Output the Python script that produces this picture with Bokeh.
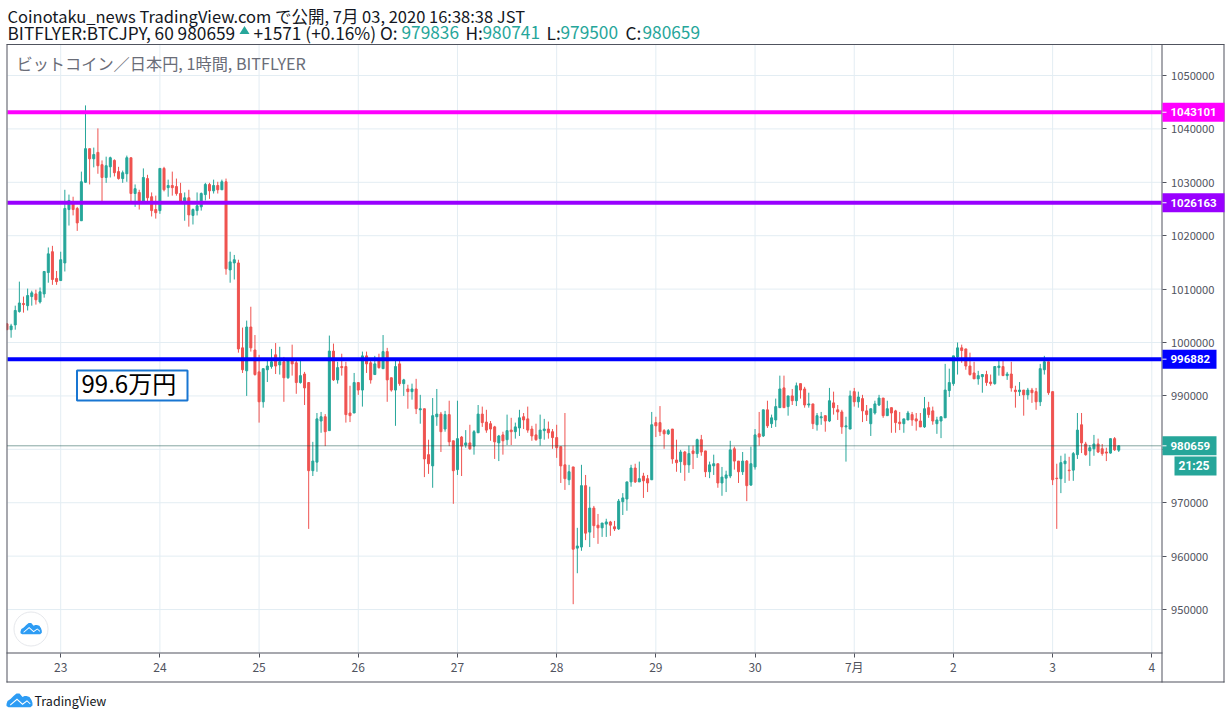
from bokeh.plotting import figure
from bokeh.models import (ColumnDataSource, FixedTicker, Label, BoxAnnotation, PolyAnnotation,
                          NumeralTickFormatter, LinearAxis)
from bokeh.embed import file_html
from bokeh.resources import INLINE

# Hourly BTC/JPY candles, in thousands of yen. Bar 13 is 23 June 00:00.
opens = [1003.5,1002.4,1003.3,1005.8,1007.3,1006.9,1008.6,1009.1,1007.6,1009.1,1013.1,1017.0,1012.0,
1011.6,1014.9,1024.9,1026.4,1025.1,1022.8,1030.0,1036.3,1034.4,1035.6,
1033.3,1030.9,1032.9,1034.1,1032.0,1030.7,1031.6,1034.6,1027.9,1028.1,
1026.4,1030.7,1027.3,1024.9,1024.7,1032.6,1029.0,1029.4,1029.2,1027.9,
1026.4,1027.1,1023.8,1024.7,1025.4,1027.7,1029.6,1028.4,1029.4,1028.6,
1030.1,1013.6,1014.9,1014.9,999.0,994.7,1002.9,998.6,994.5,988.9,
994.9,995.5,997.7,995.8,996.4,993.4,996.6,996.2,992.5,994.1,
992.5,976.0,977.6,985.3,986.1,983.5,998.4,993.0,995.5,995.5,
986.8,986.8,992.5,991.1,997.5,996.2,994.0,996.6,995.1,998.3,
993.4,991.1,996.0,992.3,991.3,990.8,991.3,987.4,987.6,979.0,
976.9,986.1,986.6,983.8,986.5,981.6,976.2,982.3,980.8,981.2,
980.6,983.1,986.6,985.1,984.8,984.2,981.2,982.7,981.8,983.6,
983.3,984.0,986.1,985.7,983.8,982.7,982.0,983.5,983.8,983.3,
982.2,980.5,977.1,974.3,976.7,961.5,961.7,973.2,964.5,969.0,
965.8,965.3,966.0,966.4,965.5,965.1,970.2,970.7,973.9,976.5,
973.9,975.0,974.5,974.3,985.0,985.0,983.5,982.9,983.8,978.0,
977.7,979.5,977.1,979.7,979.2,981.8,979.7,975.8,976.9,977.3,
973.7,974.6,975.0,980.1,977.8,975.8,977.8,973.3,976.7,982.9,
982.5,987.4,984.8,985.5,987.8,991.5,988.0,990.0,989.1,992.3,
991.3,988.3,988.5,984.6,985.9,986.3,985.3,988.7,987.4,987.0,
984.2,983.8,990.8,988.9,989.5,987.2,984.8,986.8,988.3,989.6,
986.3,987.8,987.2,985.1,984.8,985.5,986.5,985.7,985.3,984.2,
987.8,987.2,984.8,985.3,985.9,991.0,992.3,997.3,999.0,998.8,
995.6,994.3,993.2,993.6,994.0,992.6,992.3,995.3,995.5,993.8,
994.1,991.1,990.8,991.1,990.2,991.1,990.8,988.9,994.9,996.4,
990.8,974.6,974.5,977.3,976.1,976.1,979.0,984.6,981.0,979.7,
980.1,981.0,980.1,979.5,979.3,982.0,979.836]
closes = [1002.4,1003.1,1006.0,1007.4,1007.1,1008.8,1009.3,1008.0,1009.5,1013.3,1016.6,1011.8,1011.4,
1015.5,1025.1,1026.6,1024.9,1022.4,1030.1,1036.3,1034.4,1035.2,1033.1,
1030.9,1033.1,1034.6,1031.8,1030.7,1031.8,1034.6,1027.9,1028.8,1026.2,
1030.9,1027.1,1024.7,1024.3,1032.6,1028.6,1029.4,1029.0,1027.9,1026.4,
1027.1,1023.9,1024.9,1025.6,1027.9,1029.6,1028.4,1029.4,1028.6,1030.1,
1013.8,1015.1,1015.5,998.8,994.9,1002.9,999.0,994.0,988.9,995.1,
995.6,996.4,995.6,996.4,993.4,996.6,996.0,992.5,993.8,991.5,
976.0,977.8,985.7,986.1,983.3,998.4,993.0,995.3,995.3,986.5,
986.3,992.5,991.1,997.5,996.0,993.0,996.0,995.3,998.3,993.0,
991.1,995.5,992.3,993.0,990.8,991.3,987.6,987.6,978.2,977.3,
986.3,986.6,983.3,986.5,981.4,976.0,982.0,980.6,981.2,980.1,
983.3,986.6,985.0,983.6,983.8,981.4,982.5,981.6,983.5,983.3,
984.2,985.9,985.5,983.6,982.5,981.8,983.6,983.8,983.1,982.2,
980.3,976.9,974.5,975.8,961.3,961.9,973.2,964.3,969.0,965.7,
965.3,966.2,966.4,965.8,965.1,970.3,970.9,973.9,976.5,973.9,
974.5,974.1,973.7,984.6,984.4,983.3,982.9,983.5,978.2,977.5,
979.5,977.1,979.2,979.2,981.8,979.5,975.8,977.1,977.3,973.7,
974.8,975.2,979.9,977.8,975.8,977.8,973.2,977.3,982.7,982.3,
987.4,984.4,985.9,988.0,991.3,987.8,990.0,989.1,991.9,991.1,
988.3,988.5,984.8,986.3,986.1,985.3,989.1,987.8,987.0,984.2,
984.4,990.0,988.9,989.8,987.2,986.5,987.6,988.5,989.6,986.3,
987.6,986.8,985.0,984.8,985.7,986.8,985.5,985.3,984.2,987.6,
986.5,985.3,985.5,986.1,991.1,992.5,997.5,999.0,998.5,995.6,
994.0,993.2,993.8,994.0,992.5,992.3,995.5,995.6,993.8,994.1,
991.5,990.8,991.1,990.2,991.1,990.6,988.9,995.1,996.4,990.6,
974.3,974.5,977.5,977.8,976.0,979.2,983.6,981.2,979.0,980.3,
981.0,979.5,979.2,979.3,982.0,979.9,980.659]
highs = [1003.5,1003.5,1006.9,1011.4,1008.6,1010.1,1009.7,1009.9,1010.3,1013.4,1017.8,1018.1,1013.4,
1017.0,1028.6,1027.7,1027.3,1025.4,1032.0,1044.4,1036.3,1036.5,1040.1,
1034.1,1034.8,1034.8,1034.3,1032.9,1032.2,1035.0,1034.6,1029.6,1028.6,
1032.6,1031.4,1028.1,1027.5,1032.6,1032.9,1030.5,1032.0,1030.7,1029.9,
1028.1,1028.6,1025.1,1028.1,1028.1,1029.9,1029.9,1030.5,1030.1,1030.5,
1030.7,1017.0,1016.4,1015.5,1002.8,1004.1,1006.7,1001.4,997.7,995.1,
996.6,998.8,999.9,999.2,997.3,996.9,999.6,996.6,996.6,994.5,
992.6,981.4,986.8,987.0,986.6,1001.3,999.8,996.4,997.9,996.4,
991.9,994.3,992.5,998.3,998.3,996.6,997.5,997.9,1001.4,999.0,
993.4,996.6,996.6,993.2,992.1,992.3,993.2,990.2,987.6,981.8,
989.6,991.3,987.0,987.2,989.1,981.6,989.1,982.5,983.6,984.6,
983.6,988.3,988.0,987.4,985.3,984.4,982.7,983.3,986.5,985.9,
985.0,987.4,986.8,988.0,984.4,984.8,986.5,985.7,985.2,983.8,
984.6,980.5,986.8,977.1,976.7,965.3,977.1,975.2,973.0,969.4,
967.9,966.2,967.0,966.6,966.6,970.7,971.8,973.9,977.1,977.3,
977.7,975.6,975.2,987.0,986.1,988.1,983.8,983.8,983.8,981.8,
979.9,979.7,980.7,980.7,982.0,982.7,979.7,977.7,979.0,977.3,
976.7,976.0,981.6,980.5,977.8,979.5,978.0,980.5,983.8,987.0,
987.4,989.1,986.5,989.5,993.8,993.8,990.0,991.3,992.5,992.3,
991.7,990.6,988.5,986.8,987.0,986.3,991.5,990.8,988.3,987.4,
986.1,991.0,991.5,990.8,990.2,988.3,987.6,989.1,990.2,989.6,
989.1,987.8,987.4,987.0,985.7,987.2,987.0,986.8,986.8,989.8,
988.9,988.0,986.1,986.1,996.0,995.1,997.5,1000.0,999.6,998.8,
998.1,996.4,994.7,994.1,994.7,994.0,995.6,997.0,996.6,994.5,
996.4,991.9,992.6,991.1,991.5,991.5,991.5,996.0,997.5,996.4,
990.8,977.3,978.8,979.2,978.6,979.5,986.8,986.8,981.4,980.8,
982.7,982.0,981.0,980.3,982.0,982.3,980.741]
lows = [1002.4,1000.9,1002.4,1005.6,1005.6,1006.0,1006.9,1007.1,1007.3,1008.4,1011.2,1010.8,1010.8,
1011.6,1013.3,1021.9,1023.8,1020.9,1022.8,1029.9,1029.6,1032.8,1031.6,
1026.4,1029.9,1030.9,1031.1,1030.5,1029.9,1030.1,1026.4,1025.4,1024.9,
1026.4,1026.4,1023.6,1023.2,1024.1,1028.3,1027.3,1027.5,1027.5,1026.2,
1022.8,1021.7,1022.1,1023.8,1024.7,1026.6,1026.9,1027.9,1027.9,1028.6,
1012.7,1011.2,1011.8,998.1,994.3,990.0,998.3,993.8,985.0,987.8,
992.6,995.1,994.1,994.0,988.9,993.2,993.8,990.4,992.3,988.3,
965.1,975.0,975.8,983.1,980.6,983.5,992.8,992.3,993.8,985.0,
985.1,986.8,990.2,988.0,994.3,992.3,994.0,995.1,995.1,988.9,
990.8,984.4,991.9,990.0,987.6,989.3,986.6,984.8,974.8,975.4,
972.8,984.4,979.5,983.3,980.6,969.8,975.2,975.0,980.3,979.9,
979.0,983.1,984.2,983.1,981.6,978.2,977.8,979.0,980.8,980.8,
982.0,982.5,983.8,983.1,981.6,981.6,980.7,981.8,982.0,980.1,
978.4,973.7,972.4,973.3,951.0,956.8,961.0,963.0,961.7,963.4,
962.3,963.6,963.6,963.8,964.7,964.9,967.7,968.5,973.0,973.7,
973.9,970.9,972.0,974.3,982.3,982.5,980.1,982.7,977.3,975.8,
975.6,974.1,975.6,976.3,978.4,978.8,974.8,974.6,975.2,972.8,
971.3,972.0,974.6,976.2,973.7,975.2,970.3,973.2,976.2,980.7,
982.3,984.0,984.0,984.2,987.8,987.8,986.3,988.3,988.1,989.5,
987.8,987.8,983.8,983.5,984.6,983.3,985.1,986.5,985.5,982.9,
977.7,983.8,988.0,987.8,985.1,985.3,982.5,986.5,988.1,985.9,
986.3,983.1,983.1,983.6,983.1,985.5,984.4,983.5,984.2,984.0,
985.9,984.6,982.9,982.1,985.9,989.8,991.9,994.0,996.2,994.9,
993.8,993.2,992.1,990.6,991.9,991.9,992.1,993.8,993.8,993.0,
990.8,987.8,990.0,986.3,989.3,988.7,987.4,988.1,994.0,990.2,
973.3,965.1,971.8,973.7,974.1,974.1,978.2,979.3,978.8,976.9,
978.8,979.3,978.8,977.8,979.2,979.7,979.5]

assert len(opens) == len(closes) == len(highs) == len(lows), (len(opens), len(closes), len(highs), len(lows))

price_ticks = [950000, 960000, 970000, 980000, 990000, 1000000, 1010000, 1020000, 1030000, 1040000, 1050000]
day_labels = ["23", "24", "25", "26", "27", "28", "29", "30", "7月", "2", "3", "4"]
hours_per_day = 24
level_prices = [1043101, 1026163, 996882]
level_colors = ["#ff00ff", "#9900ff", "#0000ff"]
level_tag_right = [1224, 1224, 1216]
last_price = 980659
countdown = "21:25"

UP, DOWN = "#26a69a", "#ef5350"
AXIS = "#50535e"
GRID = "#e3edf3"
SANS = "Noto Sans CJK JP"

W, H = 1228, 716
PANE_L, PANE_R, PANE_T, PANE_B = 7, 1161, 44, 652
Y_PER_PX = 187.25
X_PER_PX = 1 / 4.133


def x_at(px):
    return (px - 60.2) * X_PER_PX


def y_at(py):
    return 1040000 - (py - 128.4) * Y_PER_PX


hours = list(range(-13, -13 + len(opens)))
src = ColumnDataSource(dict(
    x=hours,
    o=[v * 1000 for v in opens],
    c=[v * 1000 for v in closes],
    h=[v * 1000 for v in highs],
    l=[v * 1000 for v in lows],
    col=[UP if c >= o else DOWN for o, c in zip(opens, closes)],
))

p = figure(width=W, height=H, output_backend="svg", toolbar_location=None,
           x_range=(x_at(0), x_at(W)), y_range=(y_at(H), y_at(0)),
           x_axis_type=None, y_axis_type=None,
           min_border_left=0, min_border_right=0, min_border_top=0, min_border_bottom=0,
           background_fill_color="white", border_fill_color="white", outline_line_color=None)
p.grid.visible = False

day_ticks = [i * hours_per_day for i in range(len(day_labels))]
xaxis = LinearAxis(fixed_location=y_at(PANE_B + 0.5), ticker=FixedTicker(ticks=day_ticks),
                   major_label_overrides={t: s for t, s in zip(day_ticks, day_labels)})
yaxis = LinearAxis(fixed_location=x_at(PANE_R + 0.5), ticker=FixedTicker(ticks=price_ticks),
                   formatter=NumeralTickFormatter(format="0"))
for ax in (xaxis, yaxis):
    ax.axis_line_color = None
    ax.major_tick_line_color = AXIS
    ax.major_tick_in = 0
    ax.major_tick_out = 4
    ax.minor_tick_line_color = None
    ax.major_label_text_color = AXIS
    ax.major_label_text_font = SANS
xaxis.major_label_text_font_size = "12px"
yaxis.major_label_text_font_size = "11.2px"
xaxis.major_label_standoff = 1
yaxis.major_label_standoff = 5
p.add_layout(xaxis, "below")
p.add_layout(yaxis, "right")

# Grid, limited to the pane
p.segment(day_ticks, y_at(PANE_B), day_ticks, y_at(PANE_T), line_color=GRID, line_width=1)
p.segment(x_at(PANE_L), price_ticks, x_at(PANE_R), price_ticks, line_color=GRID, line_width=1)

p.segment("x", "l", "x", "h", source=src, line_color="col", line_width=1)
p.vbar(x="x", bottom="o", top="c", width=0.484, source=src, fill_color="col", line_color="col", line_width=1)

p.segment(x_at(PANE_L), [last_price], x_at(PANE_R), [last_price], line_color="#0b4a42", line_width=1, line_dash="1 1")
p.segment(x_at(PANE_L), level_prices, x_at(PANE_R), level_prices, line_color=level_colors, line_width=4)


def canvas_box(left, right, top, bottom, **kw):
    p.add_layout(BoxAnnotation(left=left, right=right, top=top, bottom=bottom,
                               left_units="canvas", right_units="canvas",
                               top_units="canvas", bottom_units="canvas", **kw))


def canvas_text(x, y, text, size, color, **kw):
    p.add_layout(Label(x=x, y=y, x_units="canvas", y_units="canvas", text=text,
                       text_font=kw.pop("font", SANS), text_font_size=size, text_color=color,
                       text_baseline="middle", **kw))


# Chart frame
FRAME = dict(fill_color=AXIS, fill_alpha=1, line_color=None)
canvas_box(0, 6, 40, 690, fill_color="white", fill_alpha=1, line_color=None)
canvas_box(6, 1224, 43.5, 44.5, **FRAME)
canvas_box(6, 1224, 681, 682, **FRAME)
canvas_box(6, 7, 44, 682, **FRAME)
canvas_box(1223, 1224, 44, 682, **FRAME)
canvas_box(1161, 1162, 44, 682, **FRAME)
canvas_box(6, 1162, 652, 653, **FRAME)

# Price tags
half_tag = 9.5 * Y_PER_PX
for price, color, right in zip(level_prices + [last_price], level_colors + [UP], level_tag_right + [1216]):
    p.add_layout(BoxAnnotation(left=1162, right=right, top=price + half_tag, bottom=price - half_tag,
                               left_units="canvas", right_units="canvas",
                               fill_color=color, fill_alpha=1, line_color=None))
    p.add_layout(BoxAnnotation(left=1162, right=1166, top=price + 0.5 * Y_PER_PX, bottom=price - 0.5 * Y_PER_PX,
                               left_units="canvas", right_units="canvas",
                               fill_color="white", fill_alpha=1, line_color=None))
    p.add_layout(Label(x=1170, y=price, x_units="canvas", y_units="data", text=str(price),
                       text_font="Roboto", text_font_size="11.5px", text_font_style="bold",
                       text_color="white", text_baseline="middle"))
canvas_box(1174, 1216, 456, 475, fill_color=UP, fill_alpha=1, line_color=None)
canvas_text(1178, 465.5, countdown, "12px", "white", text_font_style="bold", font="Roboto")

# Header
BLACK = "#131722"
LINE2 = "17.3px"
canvas_text(7, 15, "Coinotaku_news TradingView.com で公開, 7月 03, 2020 16:38:38 JST", "16.5px", BLACK)
canvas_text(7, 31.5, "BITFLYER:BTCJPY, 60 980659", LINE2, BLACK)
p.add_layout(PolyAnnotation(xs=[239, 249, 244], ys=[33.5, 33.5, 25.5], xs_units="canvas", ys_units="canvas",
                            fill_color=UP, fill_alpha=1, line_color=None))
canvas_text(253, 31.5, "+1571 (+0.16%) O:", LINE2, BLACK)
for x, s, c in [(401, "979836", UP), (465, "H:", BLACK), (482, "980741", UP), (546, "L:", BLACK),
                (560, "979500", UP), (625, "C:", BLACK), (642, "980659", UP)]:
    canvas_text(x, 31.5, s, LINE2, c)

canvas_text(16, 62, "ビットコイン／日本円, 1時間, BITFLYER", "16.2px", "#6a6d78")

# Text box
canvas_box(76.5, 187, 370, 400, fill_color="white", fill_alpha=1, line_color="#1976d2", line_alpha=1, line_width=2)
canvas_text(81, 382, "99.6万円", "24px", "#000000")


def cloud(ox, oy, s):
    """TradingView cloud: a blue body with a white zigzag."""
    bx = [0, 1, 4, 7, 10, 13, 16, 18, 20, 23, 25, 26, 26, 24, 2, 0]
    by = [11, 8, 6, 3, 0.5, 0.5, 4, 3, 3, 4, 7, 10, 12.5, 14.3, 14.3, 13]
    p.add_layout(PolyAnnotation(xs=[ox + s * v for v in bx], ys=[oy + s * v for v in by],
                                xs_units="canvas", ys_units="canvas",
                                fill_color="#2d9cf4", fill_alpha=1, line_color=None))
    zx = [3.5, 10.5, 16, 20.5, 24, 23.5, 20.5, 16, 10.5, 4]
    zy = [11.5, 5.5, 10.5, 7.2, 10.5, 11.3, 8.6, 12, 7, 12.5]
    p.add_layout(PolyAnnotation(xs=[ox + s * v for v in zx], ys=[oy + s * v for v in zy],
                                xs_units="canvas", ys_units="canvas",
                                fill_color="white", fill_alpha=1, line_color=None))


canvas_box(13.5, 47.5, 611.5, 645.5, fill_color="white", fill_alpha=1, line_color="#e6e8ec", line_alpha=1,
           line_width=1, border_radius=17)
cloud(20, 622, 0.82)
cloud(6, 692.5, 1.0)
canvas_text(34, 699.5, "TradingView", "12.5px", BLACK)

open("out.html", "w").write(file_html(p, INLINE))
